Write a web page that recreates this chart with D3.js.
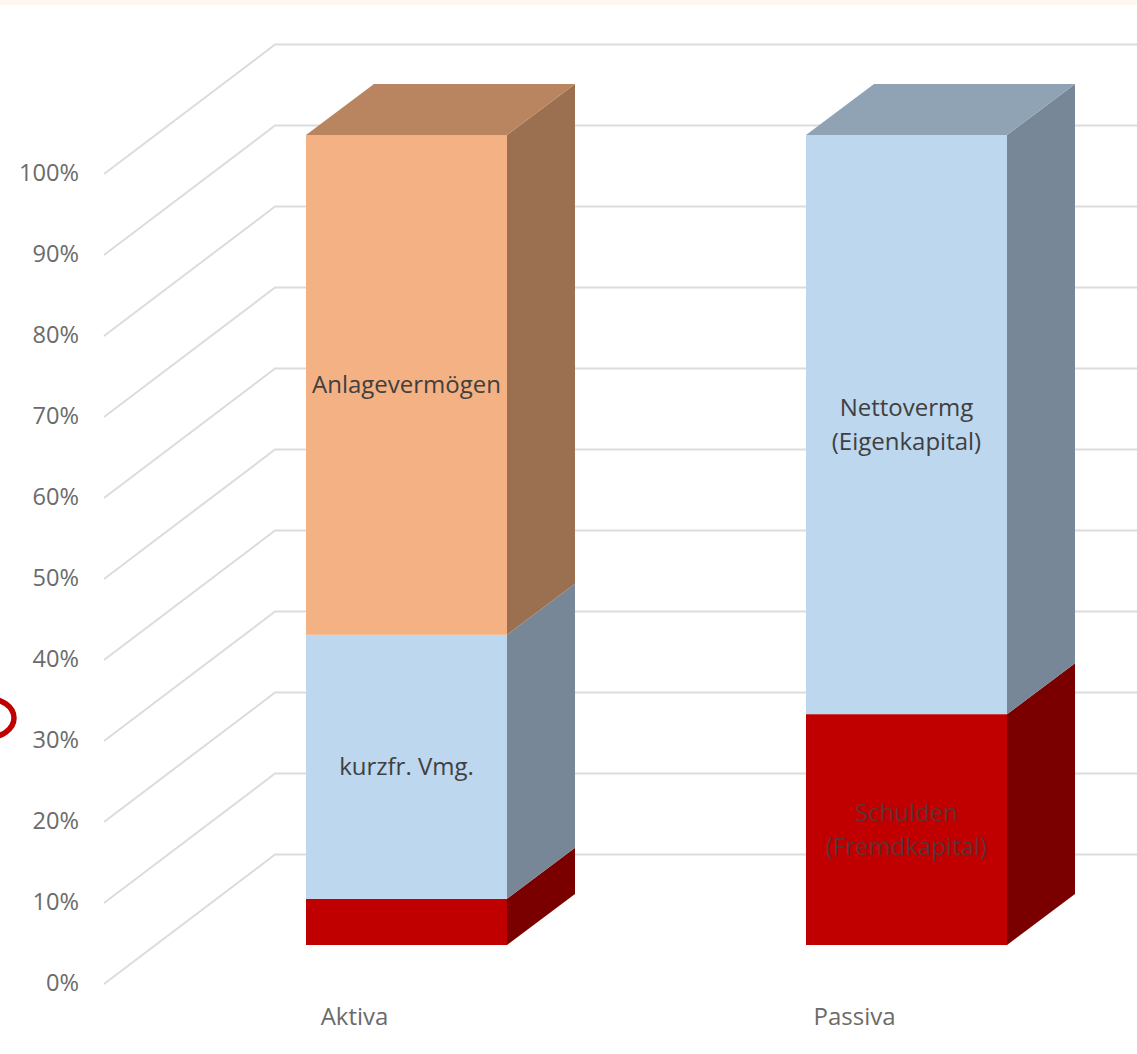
<!DOCTYPE html>
<html><head><meta charset="utf-8">
<script src="https://cdn.jsdelivr.net/npm/d3@7"></script>
<style>html,body{margin:0;padding:0;background:#fff;overflow:hidden}svg{display:block}</style>
</head><body><div id="chart"></div>
<script>
const categories = ["Aktiva", "Passiva"];
const schulden = [5.7, 28.5];
const kurzfristig = [32.6, 71.5];
const anlage = [61.7, 0];
const seriesKeys = ["rot", "blau", "orange"];
const segmentLabels = {
  "Aktiva|blau": ["kurzfr. Vmg."],
  "Aktiva|orange": ["Anlagevermögen"],
  "Passiva|blau": ["Nettovermg", "(Eigenkapital)"],
  "Passiva|rot": ["Schulden", "(Fremdkapital)"]
};
const yTicks = [0, 10, 20, 30, 40, 50, 60, 70, 80, 90, 100];

const W = 1137, H = 1054;
const faceColor = { rot: "#c00000", blau: "#bdd7ee", orange: "#f4b183" };
const sideColor = { rot: "#7a0000", blau: "#788797", orange: "#9a7050" };
const topColor = { blau: "#8fa3b5", orange: "#b98460" };
const labelColor = { rot: "#5c3236", blau: "#404040", orange: "#404040" };
const depthX = 68, depthY = 51;
const FONT = "'Open Sans', sans-serif";

const svg = d3.select("#chart").append("svg").attr("width", W).attr("height", H);
svg.append("rect").attr("width", W).attr("height", 5).attr("fill", "#fdf6f1");

// y on the front of the floor (axis plane), and on the bar fronts
const yAxisScale = d3.scaleLinear().domain([0, 100]).range([984, 174]);
const yBar = d3.scaleLinear().domain([0, 100]).range([945, 135]);
const x = d3.scaleBand().domain(categories).range([104.5, 1104.5]).paddingInner(0.598).paddingOuter(0.299);
const barShift = 52;

// gridlines
const line = d3.line();
svg.append("g").selectAll("path").data(yTicks).join("path")
  .attr("fill", "none").attr("stroke", "#dcdcdc").attr("stroke-width", 2)
  .attr("d", d => {
    const y = yAxisScale(d);
    return line([[104, y], [275, y - 129.5], [W, y - 129.5]]);
  });

// y axis labels
const yAxis = d3.axisLeft(yAxisScale).tickValues(yTicks).tickFormat(d => d + "%").tickSize(0).tickPadding(0);
const gy = svg.append("g").attr("transform", "translate(79,-1)").call(yAxis);
gy.select(".domain").remove();
gy.selectAll("text").attr("fill", "#6b6b6b").style("font-family", FONT).style("font-size", "23.6px");

// category axis labels
const xAxis = d3.axisBottom(x).tickSize(0).tickPadding(0);
const gx = svg.append("g").attr("transform", "translate(0,1002)").call(xAxis);
gx.select(".domain").remove();
gx.selectAll("text").attr("fill", "#6b6b6b").attr("dy", "0.95em").style("font-family", FONT).style("font-size", "24px");

// stacked 3D bars
const rows = categories.map((c, i) => ({ cat: c, rot: schulden[i], blau: kurzfristig[i], orange: anlage[i] }));
const stacked = d3.stack().keys(seriesKeys)(rows);
const bw = x.bandwidth();
const poly = pts => line(pts) + "Z";

stacked.forEach(s => {
  const g = svg.append("g");
  s.forEach(seg => {
    const row = seg.data;
    if (row[s.key] <= 0) return;
    const x0 = x(row.cat) + barShift, x1 = x0 + bw;
    const y0 = yBar(seg[0]), y1 = yBar(seg[1]);
    g.append("path").attr("fill", sideColor[s.key])
      .attr("d", poly([[x1, y0], [x1, y1], [x1 + depthX, y1 - depthY], [x1 + depthX, y0 - depthY]]));
    if (seg[1] >= 99.99) {
      g.append("path").attr("fill", topColor[s.key])
        .attr("d", poly([[x0, y1], [x1, y1], [x1 + depthX, y1 - depthY], [x0 + depthX, y1 - depthY]]));
    }
    g.append("rect").attr("x", x0).attr("y", y1).attr("width", bw).attr("height", y0 - y1).attr("fill", faceColor[s.key]);
  });
});

// segment labels drawn on top
stacked.forEach(s => {
  s.forEach(seg => {
    const row = seg.data;
    const lab = segmentLabels[row.cat + "|" + s.key];
    if (!lab) return;
    const cx = x(row.cat) + barShift + bw / 2;
    const cy = yBar((seg[0] + seg[1]) / 2);
    const step = 34;
    lab.forEach((t, i) => {
      svg.append("text").text(t)
        .attr("x", cx).attr("y", cy + (i - (lab.length - 1) / 2) * step)
        .attr("dy", "0.35em").attr("text-anchor", "middle")
        .attr("fill", labelColor[s.key]).style("font-family", FONT).style("font-size", "24px");
    });
  });
});

// red hand-drawn ring, cut off by the page edge
svg.append("ellipse").attr("cx", -14).attr("cy", 718).attr("rx", 28).attr("ry", 20)
  .attr("fill", "none").attr("stroke", "#c00000").attr("stroke-width", 5.5);
</script></body></html>
